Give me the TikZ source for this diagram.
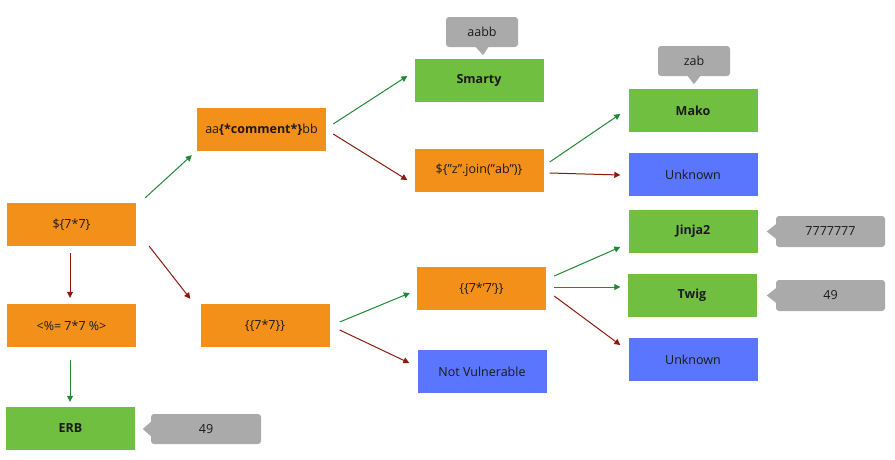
\documentclass[tikz,border=0pt]{standalone}
\usepackage{fontspec}
\setmainfont{Open Sans}
\usetikzlibrary{calc,arrows.meta}
\definecolor{orangebox}{HTML}{F39019}
\definecolor{greenbox}{HTML}{70BF41}
\definecolor{bluebox}{HTML}{5B76FE}
\definecolor{greybox}{HTML}{AAAAAA}
\definecolor{garrow}{HTML}{1E8A32}
\definecolor{rarrow}{HTML}{8B1A0C}
\definecolor{txt}{HTML}{1A1A1A}
\tikzset{
  box/.style={minimum width=129pt,minimum height=43pt,inner sep=0pt,text=txt,font=\fontsize{12.5}{14}\selectfont},
  obox/.style={box,fill=orangebox},
  gbox/.style={box,fill=greenbox,font=\fontsize{12.5}{14}\selectfont\bfseries},
  bbox/.style={box,fill=bluebox},
  callout/.style={fill=greybox,rounded corners=3pt,minimum height=30pt,inner sep=0pt,text=txt,font=\fontsize{12.5}{14}\selectfont},
  garr/.style={draw=garrow,line width=1pt,-{Triangle[length=6pt,width=6pt]}},
  rarr/.style={draw=rarrow,line width=1pt,-{Triangle[length=6pt,width=6pt]}},
}
\begin{document}
\begin{tikzpicture}[x=1pt,y=-1pt]
\useasboundingbox (0,0) rectangle (895,459);
% boxes
\node[obox] (n77) at (71.5,224.5) {\$\{7*7\}};
\node[obox] (erbq) at (71.5,325.5) {<\%= 7*7 \%>};
\node[gbox] (erb) at (70.5,428.5) {ERB};
\node[obox] (aa) at (261.5,129.5) {aa\textbf{\{*comment*\}}bb};
\node[obox] (c77) at (265,325.5) {\{\{7*7\}\}};
\node[gbox] (smarty) at (479,80.5) {Smarty};
\node[obox] (join) at (479,170.5) {\$\{"z".join("ab")\}};
\node[obox] (jq) at (481.5,288.5) {\{\{7*'7'\}\}};
\node[bbox] (nv) at (482,371.5) {Not Vulnerable};
\node[gbox] (mako) at (693,110.5) {Mako};
\node[bbox] (unk1) at (693,174.5) {Unknown};
\node[gbox] (jinja) at (693,231.5) {Jinja2};
\node[gbox] (twig) at (692,295.5) {Twig};
\node[bbox] (unk2) at (693,359.5) {Unknown};
% callouts
\node[callout,minimum width=72pt] (caabb) at (482,32) {aabb};
\fill[greybox] ($(caabb.south)+(-7,-1)$) -- ($(caabb.south)+(7,-1)$) -- ($(caabb.south)+(1,8)$) -- cycle;
\node[callout,minimum width=72pt] (czab) at (694,61) {zab};
\fill[greybox] ($(czab.south)+(-7,-1)$) -- ($(czab.south)+(7,-1)$) -- ($(czab.south)+(0,8)$) -- cycle;
\node[callout,minimum width=109pt,minimum height=31pt] (cjinja) at (830.5,231.5) {7777777};
\fill[greybox] ($(cjinja.west)+(1,-8)$) -- ($(cjinja.west)+(1,8)$) -- ($(cjinja.west)+(-9,0)$) -- cycle;
\node[callout,minimum width=109pt,minimum height=31pt] (ctwig) at (830.5,295.5) {49};
\fill[greybox] ($(ctwig.west)+(1,-8)$) -- ($(ctwig.west)+(1,8)$) -- ($(ctwig.west)+(-9,0)$) -- cycle;
\node[callout,minimum width=110pt] (cerb) at (206,429) {49};
\fill[greybox] ($(cerb.west)+(1,-8)$) -- ($(cerb.west)+(1,8)$) -- ($(cerb.west)+(-8,0)$) -- cycle;
% arrows
\draw[garr] ($(n77.north east)+(9,-5)$) -- ($(aa.south west)+(-5,4)$);
\draw[rarr] ($(n77.south east)+(13,0)$) -- ($(c77.north west)+(-10,-5)$);
\draw[rarr] ($(n77.south)+(-1.5,7)$) -- ($(erbq.north)+(-1.5,-6)$);
\draw[garr] ($(erbq.south)+(-1.5,13)$) -- ($(erb.north)+(-0.5,-5)$);
\draw[garr] ($(aa.east)+(7,-5.5)$) -- ($(smarty.west)+(-7,-4.5)$);
\draw[rarr] ($(aa.east)+(7,4.5)$) -- ($(join.west)+(-7,9.5)$);
\draw[garr] ($(c77.east)+(10,-3.5)$) -- ($(jq.west)+(-7,4.5)$);
\draw[rarr] ($(c77.east)+(10,4.5)$) -- ($(nv.west)+(-8,-8.5)$);
\draw[garr] ($(join.east)+(6,-8.5)$) -- ($(mako.west)+(-8,3.5)$);
\draw[rarr] ($(join.east)+(6,2.5)$) -- ($(unk1.west)+(-8,0.5)$);
\draw[garr] ($(jq.east)+(8,-12.5)$) -- ($(jinja.west)+(-8,15.5)$);
\draw[garr] ($(jq.east)+(8,-1.5)$) -- ($(twig.west)+(-7,-8.5)$);
\draw[rarr] ($(jq.east)+(8,7.5)$) -- ($(unk2.west)+(-8,-14.5)$);
\end{tikzpicture}
\end{document}
